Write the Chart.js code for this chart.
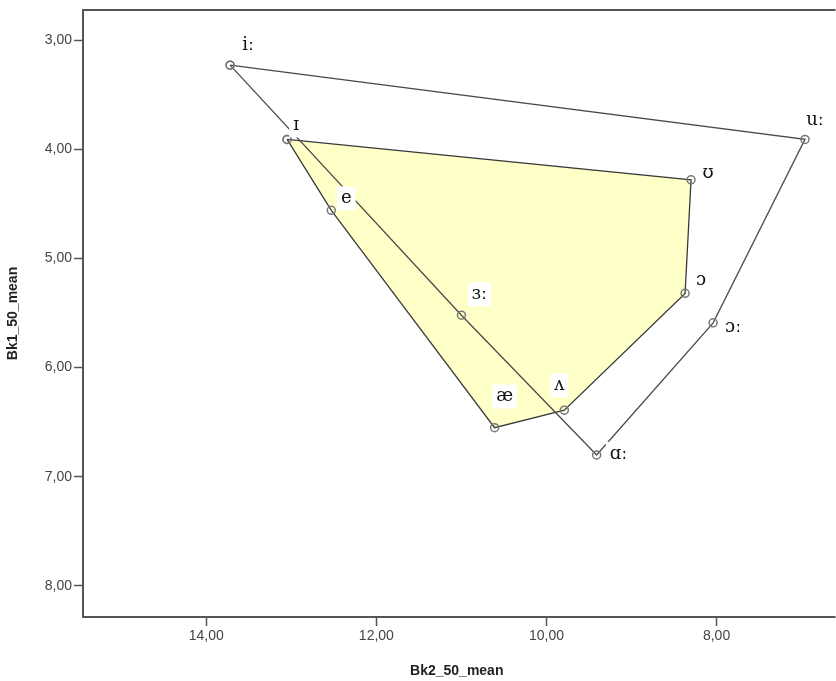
<!DOCTYPE html>
<html><head><meta charset="utf-8">
<script src="https://cdn.jsdelivr.net/npm/chart.js@4/dist/chart.umd.min.js"></script>
<style>html,body{margin:0;padding:0;background:#fff}#wrap{width:836px;height:681px;position:relative}</style>
</head><body><div id="wrap"><canvas id="c" width="836" height="681"></canvas></div>
<script>
// ---- data ----
const shortVowels = ['ɪ', 'ʊ', 'ɔ', 'ʌ', 'æ', 'e'];
const shortBk2 = [13.05, 8.30, 8.37, 9.79, 10.61, 12.53];
const shortBk1 = [3.91, 4.28, 5.32, 6.39, 6.55, 4.56];
const longVowels = ['iː', 'uː', 'ɔː', 'ɑː', 'ɜː'];
const longBk2 = [13.72, 6.96, 8.04, 9.41, 11.00];
const longBk1 = [3.23, 3.91, 5.59, 6.80, 5.52];
const xTicks = [14, 12, 10, 8];
const yTicks = [3, 4, 5, 6, 7, 8];
const xTitle = 'Bk2_50_mean';
const yTitle = 'Bk1_50_mean';

// ---- style only: label offsets in pixels ----
const labelOffset = {
  'iː': [18, -20], 'ɪ': [9, -14], 'e': [15, -12], 'ɜː': [18, -21], 'æ': [10, -31],
  'ʌ': [-5, -25], 'ɑː': [22, -1], 'ɔː': [20, 4], 'ɔ': [16, -13], 'ʊ': [17, -6], 'uː': [10, -19]
};

function closed(xs, ys) {
  const pts = xs.map((x, i) => ({x: x, y: ys[i]}));
  pts.push({x: xs[0], y: ys[0]});
  return pts;
}
const fmt = v => Number(v).toFixed(2).replace('.', ',');

const frame = {
  id: 'frame',
  afterDraw(chart) {
    const {ctx, chartArea: a} = chart;
    ctx.save();
    ctx.strokeStyle = '#555';
    ctx.lineWidth = 2;
    ctx.beginPath();
    ctx.moveTo(a.right + 5, a.top);
    ctx.lineTo(a.left, a.top);
    ctx.lineTo(a.left, a.bottom);
    ctx.lineTo(a.right + 5, a.bottom);
    ctx.stroke();
    ctx.restore();
  }
};

const labels = {
  id: 'vowelLabels',
  afterDatasetsDraw(chart) {
    const ctx = chart.ctx;
    ctx.save();
    ctx.font = '18px "DejaVu Serif", "Liberation Serif", serif';
    ctx.textAlign = 'center';
    ctx.textBaseline = 'middle';
    const sets = [shortVowels, longVowels];
    sets.forEach((names, di) => {
      const meta = chart.getDatasetMeta(di);
      names.forEach((name, i) => {
        const el = meta.data[i];
        const off = labelOffset[name] || [12, -12];
        const cx = el.x + off[0], cy = el.y + off[1];
        const w = ctx.measureText(name).width;
        ctx.fillStyle = '#fff';
        ctx.fillRect(cx - w / 2 - 4, cy - 12, w + 8, 24);
        ctx.fillStyle = '#111';
        ctx.fillText(name, cx, cy);
      });
    });
    ctx.restore();
  }
};

const tickFont = {family: '"Liberation Sans", Arial, sans-serif', size: 14};
const titleFont = {family: '"Liberation Sans", Arial, sans-serif', size: 14, weight: 'bold'};

new Chart(document.getElementById('c'), {
  type: 'scatter',
  data: {
    datasets: [
      {
        label: 'short',
        order: 1,
        data: closed(shortBk2, shortBk1),
        showLine: true,
        fill: 'shape',
        backgroundColor: 'rgb(255,255,200)',
        borderColor: '#3a3a3a',
        borderWidth: 1.3,
        pointRadius: 4,
        pointBorderColor: '#777',
        pointBackgroundColor: 'rgba(0,0,0,0)',
        pointBorderWidth: 1.5,
        tension: 0
      },
      {
        label: 'long',
        order: 0,
        data: closed(longBk2, longBk1),
        showLine: true,
        fill: false,
        borderColor: '#4a4a4a',
        borderWidth: 1.3,
        pointRadius: 4,
        pointBorderColor: '#777',
        pointBackgroundColor: 'rgba(0,0,0,0)',
        pointBorderWidth: 1.5,
        tension: 0
      }
    ]
  },
  options: {
    responsive: false,
    animation: false,
    devicePixelRatio: 1,
    layout: {padding: {top: 10, right: 0, bottom: 0, left: 0}},
    plugins: {legend: {display: false}, tooltip: {enabled: false}},
    scales: {
      x: {
        type: 'linear',
        reverse: true,
        min: 6.66,
        max: 15.45,
        afterBuildTicks: s => { s.ticks = xTicks.map(v => ({value: v})); },
        afterFit: s => { s.height = 64; s.paddingLeft = 0; s.paddingRight = 0; },
        ticks: {callback: v => fmt(v), font: tickFont, color: '#444', padding: 2},
        grid: {drawOnChartArea: false, drawTicks: true, tickLength: 9, color: '#555', tickWidth: 1.5},
        border: {display: false},
        title: {display: true, text: xTitle, font: titleFont, color: '#222', padding: {top: 0, bottom: 1}}
      },
      y: {
        type: 'linear',
        reverse: true,
        min: 2.725,
        max: 8.284,
        afterBuildTicks: s => { s.ticks = yTicks.map(v => ({value: v})); },
        afterFit: s => { s.width = 83; s.paddingTop = 0; s.paddingBottom = 0; },
        ticks: {callback: v => fmt(v), font: tickFont, color: '#444', padding: 2},
        grid: {drawOnChartArea: false, drawTicks: true, tickLength: 9, color: '#555', tickWidth: 1.5},
        border: {display: false},
        title: {display: true, text: yTitle, font: titleFont, color: '#222', padding: {top: 5, bottom: 0}}
      }
    }
  },
  plugins: [frame, labels]
});
</script>
</body></html>
